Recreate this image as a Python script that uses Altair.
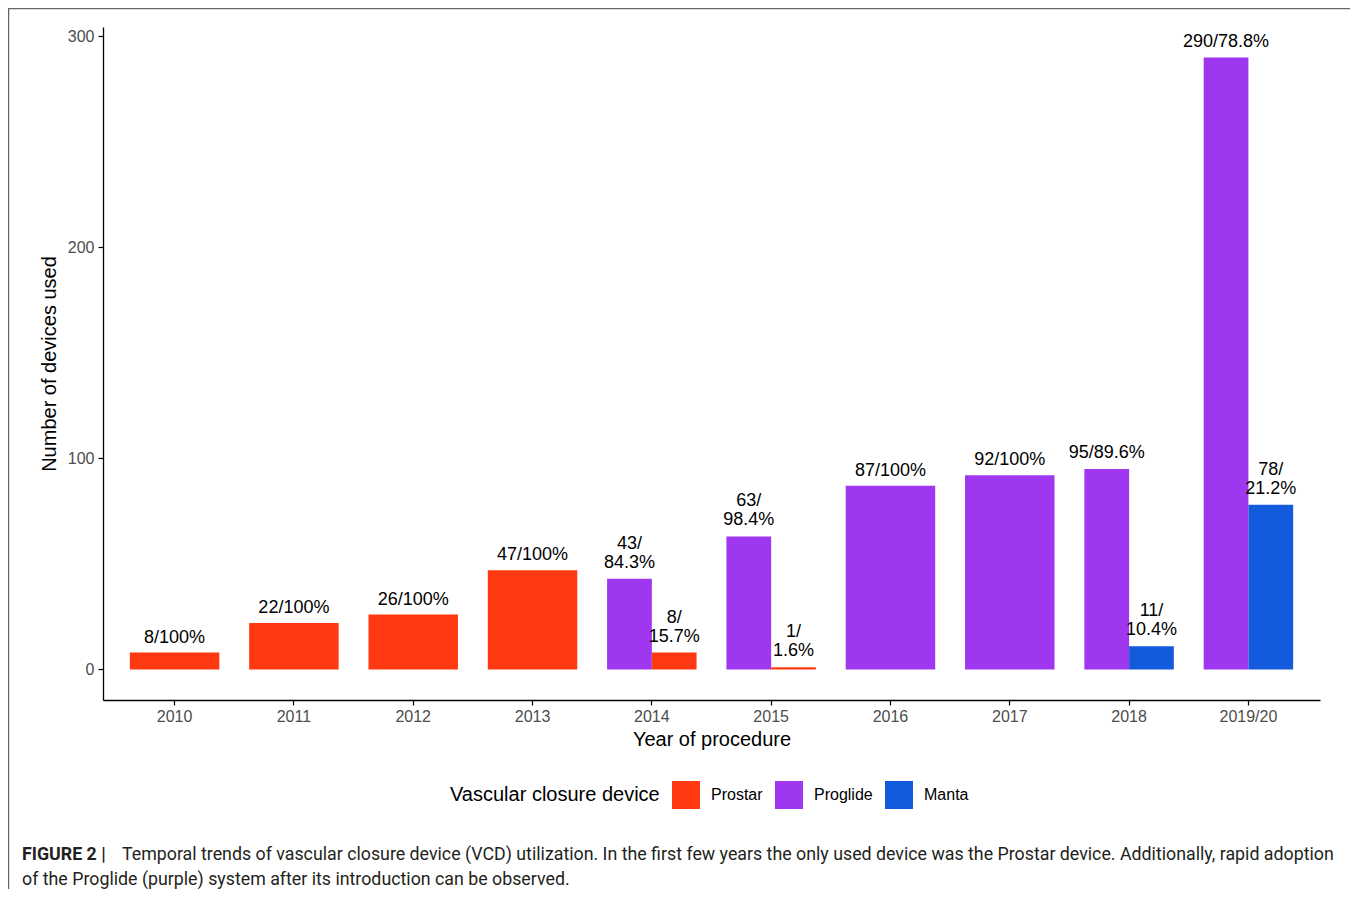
import altair as alt
import pandas as pd

# ---- data ----
year_order = ["2010", "2011", "2012", "2013", "2014", "2015", "2016", "2017", "2018", "2019/20"]
years = ["2010", "2011", "2012", "2013", "2014", "2014", "2015", "2015",
         "2016", "2017", "2018", "2018", "2019/20", "2019/20"]
devices = ["Prostar", "Prostar", "Prostar", "Prostar", "Proglide", "Prostar", "Proglide", "Prostar",
           "Proglide", "Proglide", "Proglide", "Manta", "Proglide", "Manta"]
counts = [8, 22, 26, 47, 43, 8, 63, 1, 87, 92, 95, 11, 290, 78]
# bar labels: upper line (empty when the label fits on one line) and lower line
label_top = ["", "", "", "", "43/", "8/", "63/", "1/", "", "", "", "11/", "", "78/"]
label_bottom = ["8/100%", "22/100%", "26/100%", "47/100%", "84.3%", "15.7%", "98.4%", "1.6%",
                "87/100%", "92/100%", "95/89.6%", "10.4%", "290/78.8%", "21.2%"]
device_order = ["Prostar", "Proglide", "Manta"]
device_colors = ["#FF3A12", "#A037F0", "#145ADC"]
y_ticks = [0, 100, 200, 300]

caption_bold = "FIGURE 2 |"
caption_line1 = ("Temporal trends of vascular closure device (VCD) utilization. In the first few years the only "
                 "used device was the Prostar device. Additionally, rapid adoption")
caption_line2 = "of the Proglide (purple) system after its introduction can be observed."

df = pd.DataFrame({"year": years, "device": devices, "count": counts,
                   "top": label_top, "bottom": label_bottom})

FONT = "Liberation Sans"
CAP_FONT = "Roboto"

base = alt.Chart(df).transform_joinaggregate(
    n="count()", groupby=["year"]
).transform_calculate(
    slot="datum.device == 'Proglide' ? 'a' : 'b'"
)

x_enc = alt.X(
    "year:N",
    sort=year_order,
    scale=alt.Scale(domain=year_order, paddingInner=0.25, paddingOuter=0.225),
    axis=alt.Axis(title="Year of procedure", labelAngle=0, labelPadding=3, titlePadding=5),
)
y_enc = alt.Y(
    "count:Q",
    scale=alt.Scale(domain=[-14.5, 304.5], nice=False, zero=False),
    axis=alt.Axis(title="Number of devices used", values=y_ticks, labelPadding=4, titlePadding=8),
)
color_enc = alt.Color(
    "device:N",
    scale=alt.Scale(domain=device_order, range=device_colors),
    legend=alt.Legend(
        title="Vascular closure device",
        orient="none", legendX=347, legendY=754,
        direction="horizontal", titleOrient="left", titleLimit=500,
        symbolType="square", symbolSize=784, symbolStrokeWidth=0, symbolOpacity=1,
        labelFontSize=16, labelFont=FONT, labelColor="black",
        titleFontSize=20, titleFont=FONT, titleFontWeight="normal", titleColor="black",
        columnPadding=12, labelOffset=11, titlePadding=12,
    ),
)
xoff_enc = alt.XOffset("slot:N", scale=alt.Scale(domain=["a", "b"], paddingInner=0, paddingOuter=0))

single = base.transform_filter("datum.n == 1")
double = base.transform_filter("datum.n == 2")

full_bars = single.mark_bar().encode(x=x_enc, y=y_enc, color=color_enc)
dodge_bars = double.mark_bar().encode(x=x_enc, xOffset=xoff_enc, y=y_enc, color=color_enc)

LH = 19
tp = dict(baseline="bottom", fontSize=18, font=FONT, color="black")
full_text = single.mark_text(dy=-6, **tp).encode(x=x_enc, y=y_enc, text="bottom:N")
dodge_text_low = double.mark_text(dy=-7, **tp).encode(x=x_enc, xOffset=xoff_enc, y=y_enc, text="bottom:N")
dodge_text_up = double.mark_text(dy=-7 - LH, **tp).encode(x=x_enc, xOffset=xoff_enc, y=y_enc, text="top:N")

cap_style = dict(align="left", baseline="middle", font=CAP_FONT, fontSize=17.8, color="#231F20")
cap_bold = alt.Chart(pd.DataFrame({"t": [caption_bold]})).mark_text(fontWeight="bold", **cap_style).encode(
    x=alt.value(-81), y=alt.value(828), text="t:N")
cap_1 = alt.Chart(pd.DataFrame({"t": [caption_line1]})).mark_text(**cap_style).encode(
    x=alt.value(19), y=alt.value(828), text="t:N")
cap_2 = alt.Chart(pd.DataFrame({"t": [caption_line2]})).mark_text(**cap_style).encode(
    x=alt.value(-81), y=alt.value(853), text="t:N")

frame = alt.Chart(pd.DataFrame({"f": [0]})).mark_rect(
    fill="transparent", stroke="#666666", strokeWidth=1.5
).encode(x=alt.value(-94.5), x2=alt.value(1252), y=alt.value(-18.5), y2=alt.value(900))

chart = alt.layer(
    full_bars, dodge_bars, full_text, dodge_text_low, dodge_text_up, cap_bold, cap_1, cap_2, frame
).properties(
    width=1217, height=673,
    autosize=alt.AutoSizeParams(type="none"),
    padding={"left": 95, "top": 19, "right": 30, "bottom": 189},
).configure_view(stroke=None).configure_axis(
    grid=False, domainColor="black", domainWidth=1.3, tickColor="black", tickWidth=1.2, tickSize=5,
    labelColor="#4D4D4D", labelFontSize=16, labelFont=FONT,
    titleFontSize=20, titleFont=FONT, titleFontWeight="normal", titleColor="black",
)

chart.save("out.html", embed_options={"renderer": "svg", "actions": False})
